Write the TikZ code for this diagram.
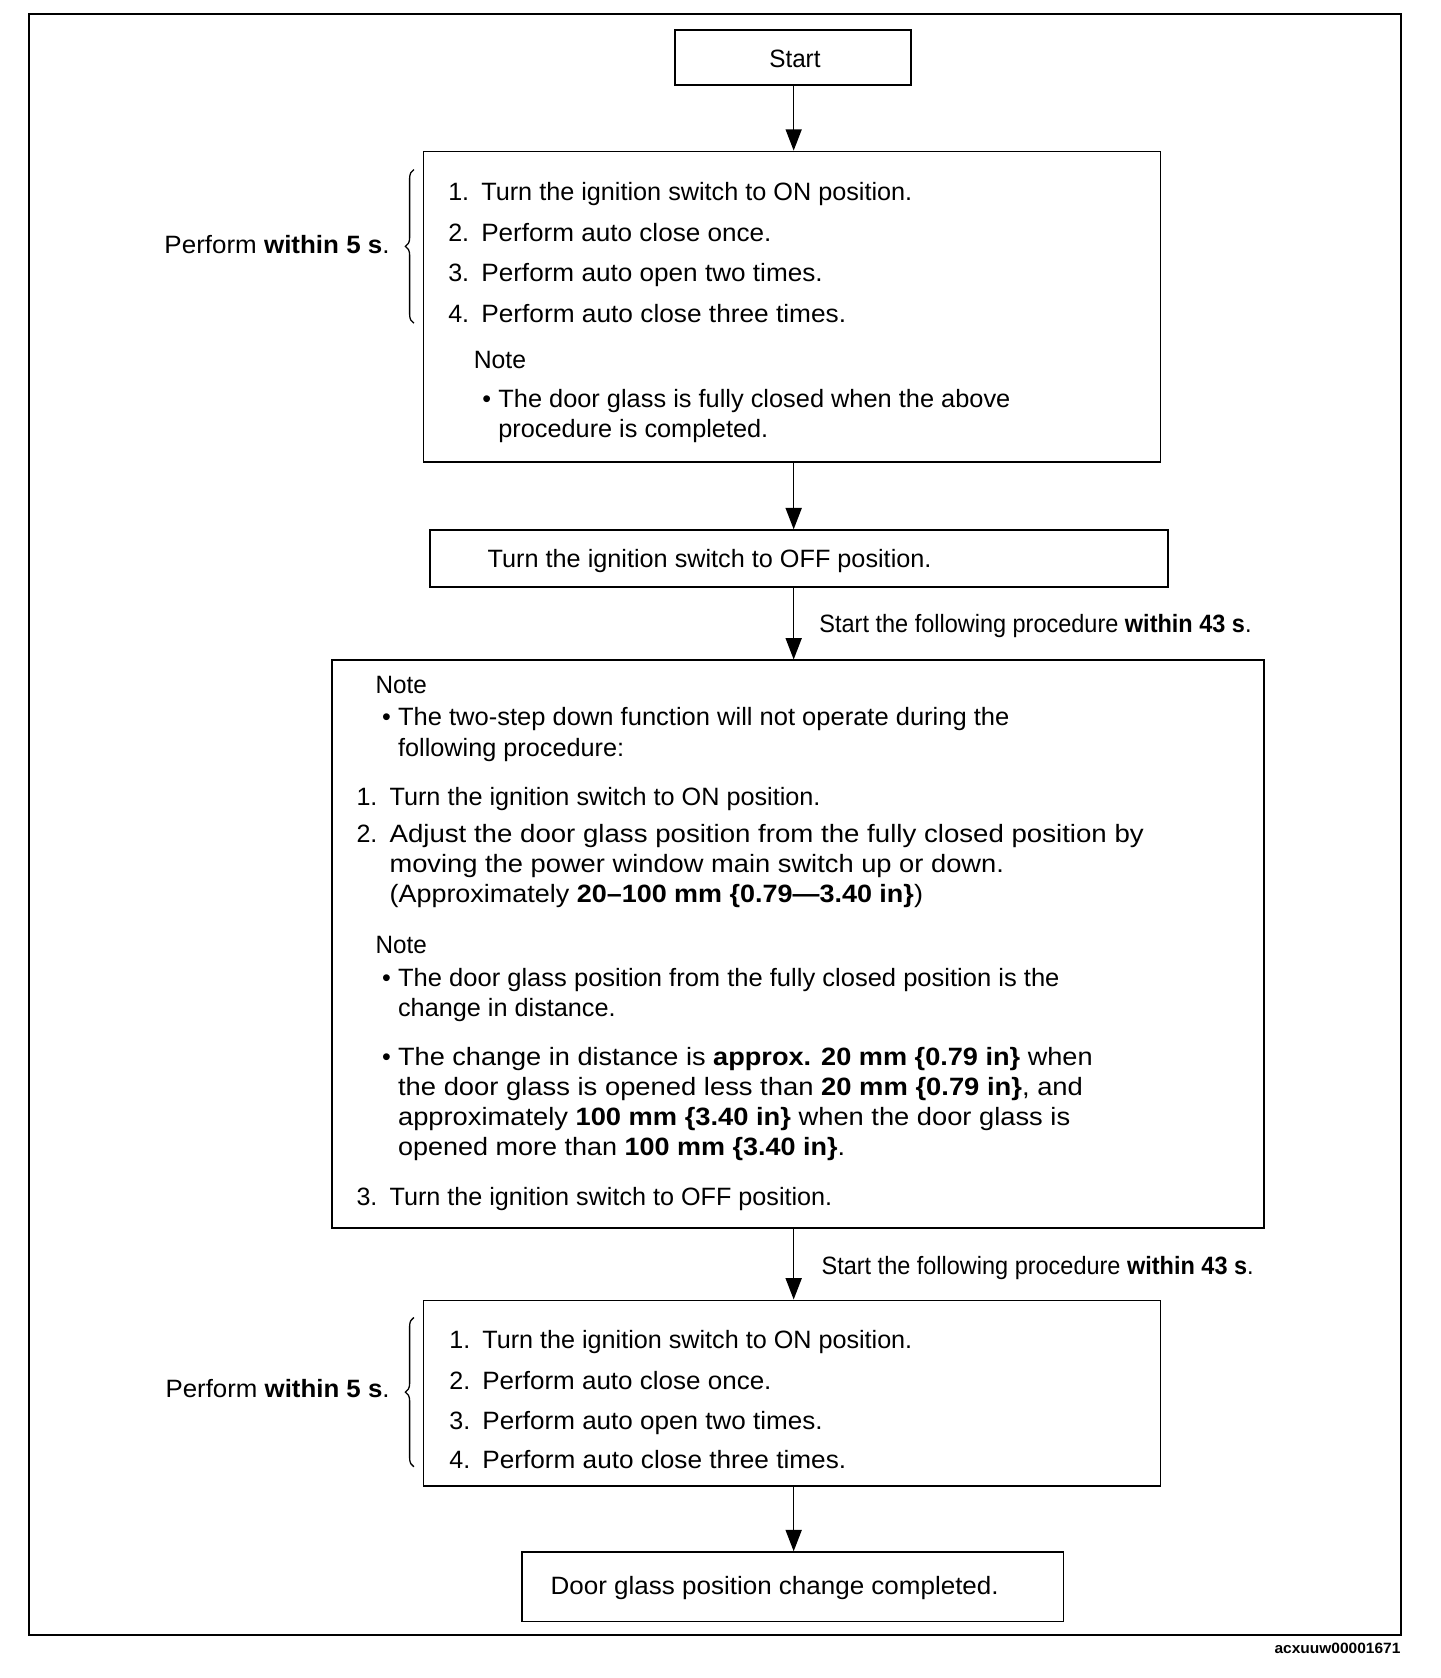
\documentclass[tikz,border=0pt]{standalone}
\usepackage{fontspec}
\setmainfont{Liberation Sans}
\usetikzlibrary{arrows.meta,decorations.pathreplacing}
\newcounter{tln}
\newcommand\tl[4]{%
  \stepcounter{tln}%
  \pgfmathsetmacro\tlw{#3-#1}%
  \node[txt] (t\thetln) at (#1,#2) {\resizebox{\tlw pt}{\height}{#4}};}
\newcommand\nm[3]{\stepcounter{tln}\node[txt] (t\thetln) at (#1,#2) {#3};}
\newcommand\bl[2]{\stepcounter{tln}\node[txt] (t\thetln) at (#1,#2) {•};}
\begin{document}
\begin{tikzpicture}[x=1pt,y=-1pt,
  txt/.style={anchor=base west, inner sep=0pt, font=\fontsize{23.5}{28}\selectfont},
  box/.style={draw, line width=1.6pt, rectangle, inner sep=0pt},
  arr/.style={line width=1.5pt, -{Triangle[length=20pt,width=15pt]}},
  brc/.style={line width=1.2pt, decorate, decoration={brace, amplitude=8pt}}]
\useasboundingbox (0,0) rectangle (1350,1573);
\draw[line width=1.8pt] (27,13) rectangle (1313,1533);
% boxes
\node[box, minimum width=221pt, minimum height=52pt] (b1) at (743.5,54) {};
\node[box, minimum width=691pt, minimum height=291pt] (b2) at (742.5,287.5) {};
\node[box, minimum width=692pt, minimum height=53pt] (b3) at (749,523.5) {};
\node[box, minimum width=874pt, minimum height=532pt] (b4) at (748,885) {};
\node[box, minimum width=691pt, minimum height=174pt] (b5) at (742.5,1306) {};
\node[box, minimum width=508pt, minimum height=65pt] (b6) at (743,1487.5) {};
\coordinate (ax) at (744,0);
\draw[arr] (b1.south -| ax) -- (b2.north -| ax);
\draw[arr] (b2.south -| ax) -- (b3.north -| ax);
\draw[arr] (b3.south -| ax) -- (b4.north -| ax);
\draw[arr] (b4.south -| ax) -- (b5.north -| ax);
\draw[arr] (b5.south -| ax) -- (b6.north -| ax);
% braces
\coordinate (br1a) at (388,303); \coordinate (br1b) at (388,159);
\coordinate (br2a) at (388,1375); \coordinate (br2b) at (388,1235);
\draw[brc] (br1a) -- (br1b);
\draw[brc] (br2a) -- (br2b);
% texts
\tl{721}{63}{769}{Start}
\tl{154}{238}{365}{Perform \textbf{within 5 s}.}
\nm{420}{188}{1.}\tl{451}{188}{855}{Turn the ignition switch to ON position.}
\nm{420}{226}{2.}\tl{451}{226}{723}{Perform auto close once.}
\nm{420}{264}{3.}\tl{451}{264}{771}{Perform auto open two times.}
\nm{420}{302}{4.}\tl{451}{302}{793}{Perform auto close three times.}
\tl{444}{345}{493}{Note}
\bl{452}{382}\tl{467}{382}{947}{The door glass is fully closed when the above}
\tl{467}{410}{720}{procedure is completed.}
\tl{457}{532}{873}{Turn the ignition switch to OFF position.}
\tl{768}{593}{1173}{Start the following procedure \textbf{within 43 s}.}
\tl{352}{650}{400}{Note}
\bl{358}{680}\tl{373}{680}{946}{The two-step down function will not operate during the}
\tl{373}{709}{585}{following procedure:}
\nm{334}{755}{1.}\tl{365}{755}{769}{Turn the ignition switch to ON position.}
\nm{334}{790}{2.}\tl{365}{790}{1072}{Adjust the door glass position from the fully closed position by}
\tl{365}{818}{941}{moving the power window main switch up or down.}
\tl{365}{846}{865}{(Approximately \textbf{20–100 mm \{0.79—3.40 in\}})}
\tl{352}{894}{400}{Note}
\bl{358}{925}\tl{373}{925}{993}{The door glass position from the fully closed position is the}
\tl{373}{953}{577}{change in distance.}
\bl{358}{999}\tl{373}{999}{1024}{The change in distance is \textbf{approx. 20 mm \{0.79 in\}} when}
\tl{373}{1027}{1015}{the door glass is opened less than \textbf{20 mm \{0.79 in\}}, and}
\tl{373}{1055}{1003}{approximately \textbf{100 mm \{3.40 in\}} when the door glass is}
\tl{373}{1083}{792}{opened more than \textbf{100 mm \{3.40 in\}}.}
\nm{334}{1130}{3.}\tl{365}{1130}{780}{Turn the ignition switch to OFF position.}
\tl{770}{1195}{1175}{Start the following procedure \textbf{within 43 s}.}
\tl{155}{1310}{365}{Perform \textbf{within 5 s}.}
\nm{421}{1264}{1.}\tl{452}{1264}{855}{Turn the ignition switch to ON position.}
\nm{421}{1303}{2.}\tl{452}{1303}{723}{Perform auto close once.}
\nm{421}{1340}{3.}\tl{452}{1340}{771}{Perform auto open two times.}
\nm{421}{1377}{4.}\tl{452}{1377}{793}{Perform auto close three times.}
\tl{516}{1495}{936}{Door glass position change completed.}
\node[anchor=base east, inner sep=0pt, font=\fontsize{14}{16}\selectfont\bfseries] (lbl) at (1313,1550) {\resizebox{118pt}{\height}{acxuuw00001671}};
\end{tikzpicture}
\end{document}
